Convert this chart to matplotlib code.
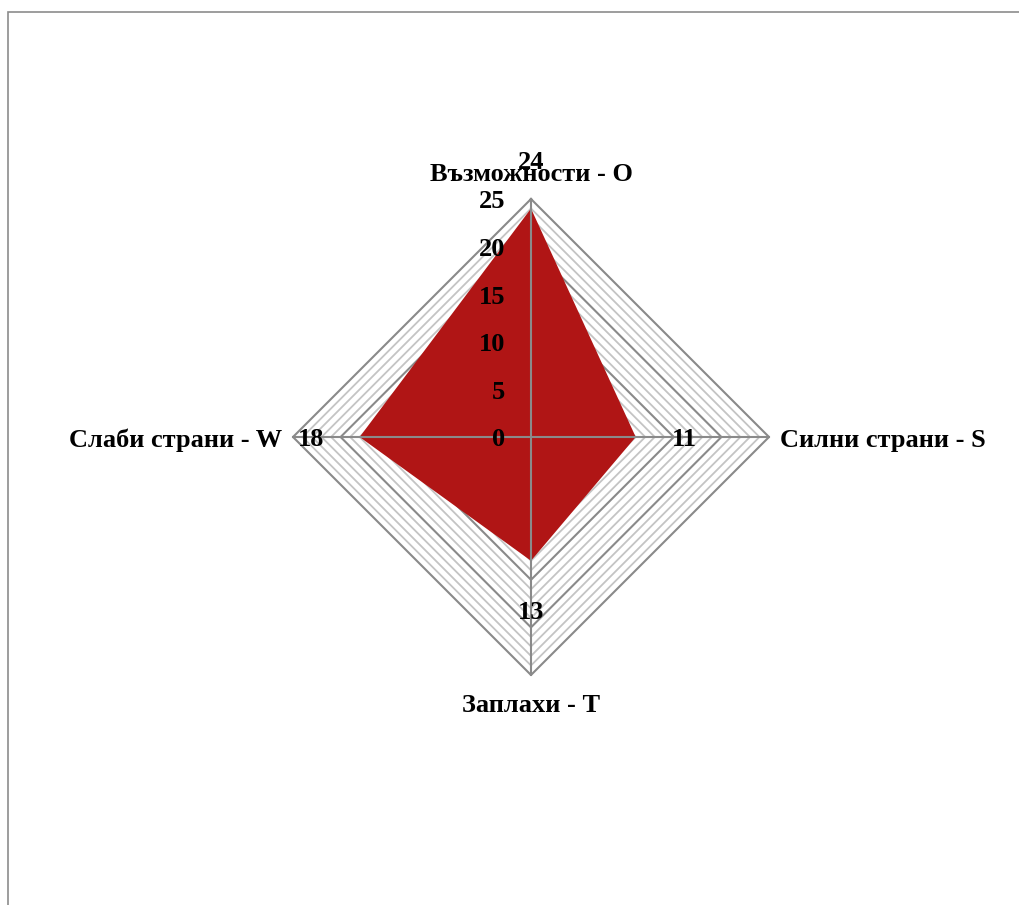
import numpy as np
import matplotlib
matplotlib.use('Agg')
import matplotlib.pyplot as plt
from matplotlib.patches import Rectangle

categories = ['Възможности - O', 'Силни страни - S', 'Заплахи - Т', 'Слаби страни - W']
values = [24, 11, 13, 18]
angles_deg = [90, 0, -90, 180]
r_max = 25
major_ticks = [0, 5, 10, 15, 20, 25]
minor_ticks = list(range(1, 26))

W, H = 1019, 905
cx, cy = 531, 437          # centre in pixels (from top)
scale = 238 / r_max        # pixels per unit

plt.rcParams['font.family'] = ['Liberation Serif', 'DejaVu Serif']
plt.rcParams['font.weight'] = 'bold'

fig = plt.figure(figsize=(W / 100, H / 100), dpi=100)
ax = fig.add_axes([0, 0, 1, 1])
ax.set_xlim(-cx / scale, (W - cx) / scale)
ax.set_ylim(-(H - cy) / scale, cy / scale)
ax.axis('off')

ang = np.radians(angles_deg)
cosA, sinA = np.cos(ang), np.sin(ang)

def ring(r):
    xs = np.append(r * cosA, r * cosA[0])
    ys = np.append(r * sinA, r * sinA[0])
    return xs, ys

# grid
for r in minor_ticks:
    if r % 5 == 0:
        continue
    xs, ys = ring(r)
    ax.plot(xs, ys, color='#c4c4c4', lw=1.3, zorder=1)
for r in major_ticks[1:]:
    xs, ys = ring(r)
    ax.plot(xs, ys, color='#8a8a8a', lw=1.5, zorder=2)

# data polygon
vx, vy = np.array(values) * cosA, np.array(values) * sinA
ax.fill(vx, vy, color='#b01515', zorder=3, lw=0)

# spokes
for c, s in zip(cosA, sinA):
    ax.plot([0, r_max * c], [0, r_max * s], color='#8a8a8a', lw=1.5, zorder=4)

fs = 19
dy = -3 / scale   # small downward nudge of all texts
# radial tick labels
for t in major_ticks:
    ax.text(-26 / scale, t + dy, str(t), ha='right', va='center', fontsize=fs,
            fontweight='bold', zorder=5)

# data labels
off = 49 / scale
for v, c, s in zip(values, cosA, sinA):
    ax.text((v + off) * c, (v + off) * s + dy, str(v), ha='center', va='center',
            fontsize=fs, fontweight='bold', zorder=5)

# category labels
cat_pos = [(0, (cy - 172) / scale, 'center'),
           ((780 - cx) / scale, 0, 'left'),
           (0, -(702 - cy) / scale, 'center'),
           ((282 - cx) / scale, 0, 'right')]
for name, (x, y, ha) in zip(categories, cat_pos):
    ax.text(x, y + dy, name, ha=ha, va='center', fontsize=fs, fontweight='bold', zorder=5)

# outer chart border (cropped on right/bottom)
fig.patches.append(Rectangle((8 / W, -0.1), 1.2, 1.1 - 12 / H, transform=fig.transFigure,
                             fill=False, edgecolor='#8c8c8c', lw=1.2))

fig.savefig('out.png', dpi=100, facecolor='white')
